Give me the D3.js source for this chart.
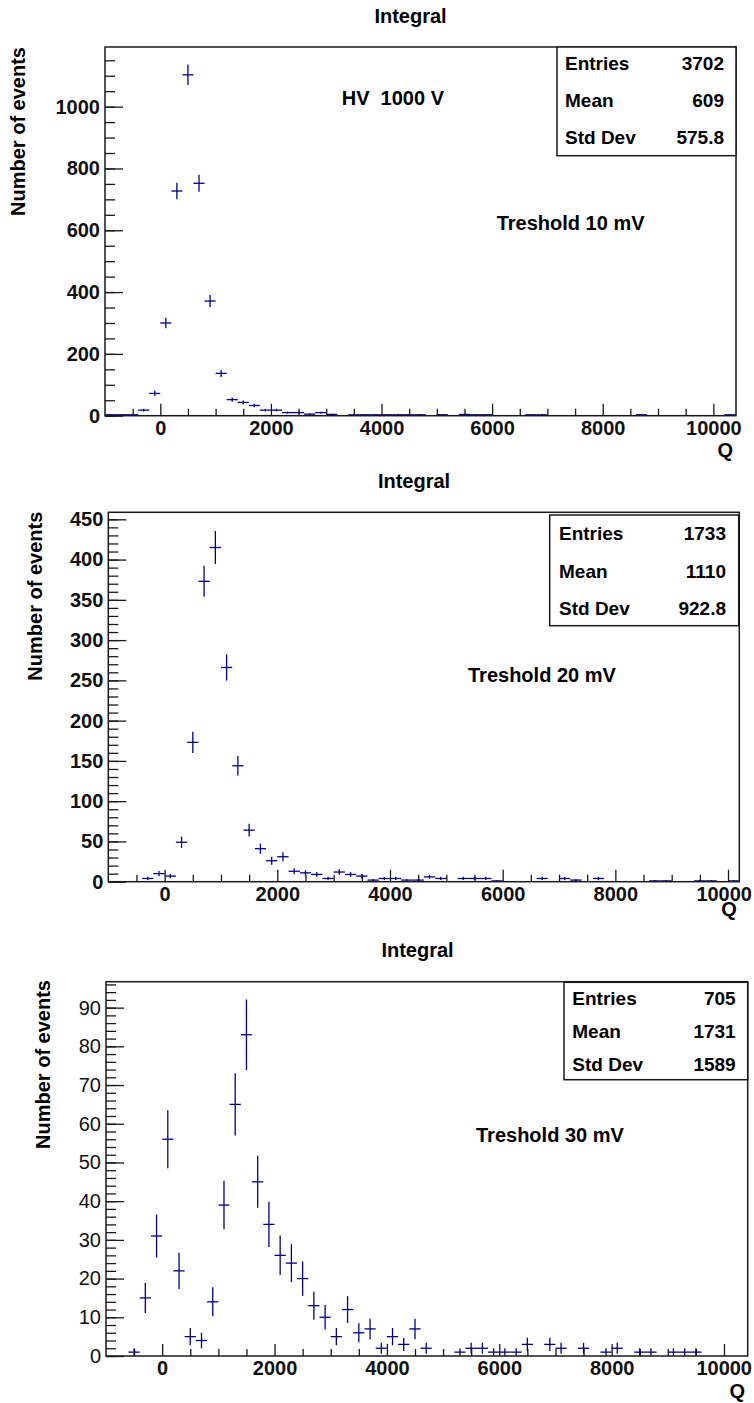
<!DOCTYPE html>
<html>
  <head>
    <meta charset="utf-8">
    <script src="https://d3js.org/d3.v7.min.js"></script>
    <style>
      body { margin: 0; background: #fff; }
      text { font-family: "Liberation Sans", Arial, Helvetica, sans-serif; font-weight: bold; }
    </style>
  </head>
  <body>
    <div id="chart"></div>
    <script type="text/javascript">

      // bin centres (Q) and counts, bin width 200, empty bins left out
      var q1 = [-900,-700,-500,-300,-100,100,300,500,700,900,1100,1300,1500,1700,1900,2100,2300,2500,2700,2900,
                3100,3500,3700,3900,4100,4300,4500,4700,5100,5500,5700,5900,6700,6900,8700,10300];
      var n1 = [3,3,3,18,72,300,727,1103,752,371,137,52,43,33,18,18,10,10,5,10,
                4,3,3,3,3,3,3,3,3,4,3,3,3,3,3,3];

      var q2 = [-300,-100,100,300,500,700,900,1100,1300,1500,1700,1900,2100,2300,2500,2700,2900,3100,3300,3500,
                3700,3900,4100,4300,4500,4700,4900,5300,5500,5700,5900,6700,7100,7300,7700,8700,8900,9500,9700,10100];
      var n2 = [4,10,7,49,173,373,415,266,144,64,41,26,31,13,11,9,4,12,9,7,
                2,4,4,2,2,6,4,4,4,4,1,4,4,2,4,1,1,1,1,1];

      var q3 = [-500,-300,-100,100,300,500,700,900,1100,1300,1500,1700,1900,2100,2300,2500,2700,2900,3100,3300,
                3500,3700,3900,4100,4300,4500,4700,5300,5500,5700,5900,6100,6300,6500,6900,7100,7500,7900,8100,8500,
                8700,9100,9300,9500];
      var n3 = [1,15,31,56,22,5,4,14,39,65,83,45,34,26,24,20,13,10,5,12,
                6,7,2,5,3,7,2,1,2,2,1,1,1,3,3,2,2,1,2,1,
                1,1,1,1];

      var statNames = ["Entries", "Mean", "Std Dev"];
      var stats1 = ["3702", "609", "575.8"];
      var stats2 = ["1733", "1110", "922.8"];
      var stats3 = ["705", "1731", "1589"];

      var xTicks = [0, 2000, 4000, 6000, 8000, 10000];
      var yTicks1 = [0, 200, 400, 600, 800, 1000];
      var yTicks2 = [0, 50, 100, 150, 200, 250, 300, 350, 400, 450];
      var yTicks3 = [0, 10, 20, 30, 40, 50, 60, 70, 80, 90];

      var notes1 = ["HV  1000 V", "Treshold 10 mV"];
      var notes2 = ["Treshold 20 mV"];
      var notes3 = ["Treshold 30 mV"];

      var blue = "#00008f", ink = "#1a1a1a";

      // frame and placement of each pad
      var panels = [
        {q: q1, n: n1, stats: stats1, yTicks: yTicks1, yMinor: 50, notes: notes1,
         x0: 105, y0: 47, x1: 736, y1: 415.7, xMax: 10410, yMax: 1193, yBold: true,
         box: {l: 557, t: 47, r: 736, b: 155.7, rows: [63.3, 100.5, 137], tl: 565, tr: 724},
         title: [410.5, 23.3], ylab: [18, 47], qlab: [733, 457],
         notePos: [[341.7, 98], [496.7, 223]]},
        {q: q2, n: n2, stats: stats2, yTicks: yTicks2, yMinor: 10, notes: notes2,
         x0: 108.3, y0: 512.3, x1: 739.3, y1: 881.7, xMax: 10200, yMax: 458.7, yBold: true,
         box: {l: 549.7, t: 515, r: 738.7, b: 625.7, rows: [532.7, 571, 607.7], tl: 559, tr: 726},
         title: [414, 488.3], ylab: [35, 511.7], qlab: [736.7, 915.5],
         notePos: [[468, 675]]},
        {q: q3, n: n3, stats: stats3, yTicks: yTicks3, yMinor: 2, notes: notes3,
         x0: 106, y0: 981.7, x1: 747.7, y1: 1356, xMax: 10422, yMax: 96.7, yBold: false,
         box: {l: 564, t: 982.3, r: 747.7, b: 1079.7, rows: [998.3, 1031, 1064.3], tl: 572.3, tr: 735.7},
         title: [417.5, 956.7], ylab: [43, 980], qlab: [745, 1398],
         notePos: [[476, 1135]]}
      ];

      var svg = d3.select("#chart")
          .append("svg")
          .attr("width", 754)
          .attr("height", 1403);

      panels.forEach(function(p) {
        var x = d3.scaleLinear().domain([-1000, p.xMax]).range([p.x0, p.x1]);
        var y = d3.scaleLinear().domain([0, p.yMax]).range([p.y1, p.y0]);
        var g = svg.append("g");

        var xMinor = d3.range(-500, p.xMax, 500).filter(function(v) { return v % 2000 != 0; });
        var yMinor = d3.range(0, p.yMax, p.yMinor);

        function styleAxis(a) {
          a.select(".domain").remove();
          a.selectAll("line").attr("stroke", ink).attr("stroke-width", 1.3);
          a.selectAll("text").attr("fill", "#111").attr("font-size", 20);
        }

        g.append("g").attr("transform", "translate(0," + p.y1 + ")")
          .call(d3.axisBottom(x).tickValues(xMinor).tickSize(-7).tickFormat(""))
          .call(styleAxis);
        var xa = g.append("g").attr("transform", "translate(0," + p.y1 + ")")
          .call(d3.axisBottom(x).tickValues(xTicks).tickSize(-12).tickPadding(5).tickFormat(d3.format("d")))
          .call(styleAxis);
        // keep the last label inside the page, as the original does
        xa.selectAll("text").each(function() {
          var bb = this.getBBox(), t = this.parentNode.getAttribute("transform");
          var tx = +t.match(/translate\(([-\d.]+)/)[1];
          if (tx + bb.x + bb.width > 752) d3.select(this).attr("dx", 752 - (tx + bb.x + bb.width));
        });

        g.append("g").attr("transform", "translate(" + p.x0 + ",0)")
          .call(d3.axisLeft(y).tickValues(yMinor).tickSize(-10).tickFormat(""))
          .call(styleAxis);
        var ya = g.append("g").attr("transform", "translate(" + p.x0 + ",0)")
          .call(d3.axisLeft(y).tickValues(p.yTicks).tickSize(-18).tickPadding(5).tickFormat(d3.format("d")))
          .call(styleAxis);
        if (!p.yBold) ya.selectAll("text").style("font-weight", "normal");

        // histogram with sqrt(N) error bars
        var bins = p.q.map(function(c, i) { return {c: c, n: p.n[i]}; });
        var marks = g.append("g").attr("stroke", blue).attr("stroke-width", 1.3);
        marks.selectAll("line.h").data(bins).enter().append("line")
          .attr("x1", function(d) { return x(d.c - 100); })
          .attr("x2", function(d) { return x(d.c + 100); })
          .attr("y1", function(d) { return y(d.n); })
          .attr("y2", function(d) { return y(d.n); });
        marks.selectAll("line.v").data(bins).enter().append("line")
          .attr("x1", function(d) { return x(d.c); })
          .attr("x2", function(d) { return x(d.c); })
          .attr("y1", function(d) { return y(Math.max(0, d.n - Math.sqrt(d.n))); })
          .attr("y2", function(d) { return y(d.n + Math.sqrt(d.n)); });

        g.append("rect")
          .attr("x", p.x0).attr("y", p.y0)
          .attr("width", p.x1 - p.x0).attr("height", p.y1 - p.y0)
          .attr("fill", "none").attr("stroke", ink).attr("stroke-width", 1.5);

        // stats box
        var b = p.box;
        g.append("rect")
          .attr("x", b.l).attr("y", b.t)
          .attr("width", b.r - b.l).attr("height", b.b - b.t)
          .attr("fill", "#fff").attr("stroke", ink).attr("stroke-width", 1.5);
        statNames.forEach(function(s, i) {
          g.append("text").attr("x", b.tl).attr("y", b.rows[i]).attr("dy", "0.36em")
            .attr("font-size", 19).text(s);
          g.append("text").attr("x", b.tr).attr("y", b.rows[i]).attr("dy", "0.36em")
            .attr("font-size", 19).attr("text-anchor", "end").text(p.stats[i]);
        });

        g.append("text").attr("x", p.title[0]).attr("y", p.title[1])
          .attr("text-anchor", "middle").attr("font-size", 20).text("Integral");

        g.append("text")
          .attr("transform", "translate(" + p.ylab[0] + "," + p.ylab[1] + ") rotate(-90)")
          .attr("dy", "0.36em").attr("text-anchor", "end").attr("font-size", 20)
          .text("Number of events");

        g.append("text").attr("x", p.qlab[0]).attr("y", p.qlab[1])
          .attr("text-anchor", "end").attr("font-size", 20).text("Q");

        p.notes.forEach(function(t, i) {
          g.append("text").attr("x", p.notePos[i][0]).attr("y", p.notePos[i][1])
            .attr("dy", "0.36em").attr("font-size", 20)
            .style("white-space", "pre").text(t);
        });
      });

    </script>
  </body>
</html>
